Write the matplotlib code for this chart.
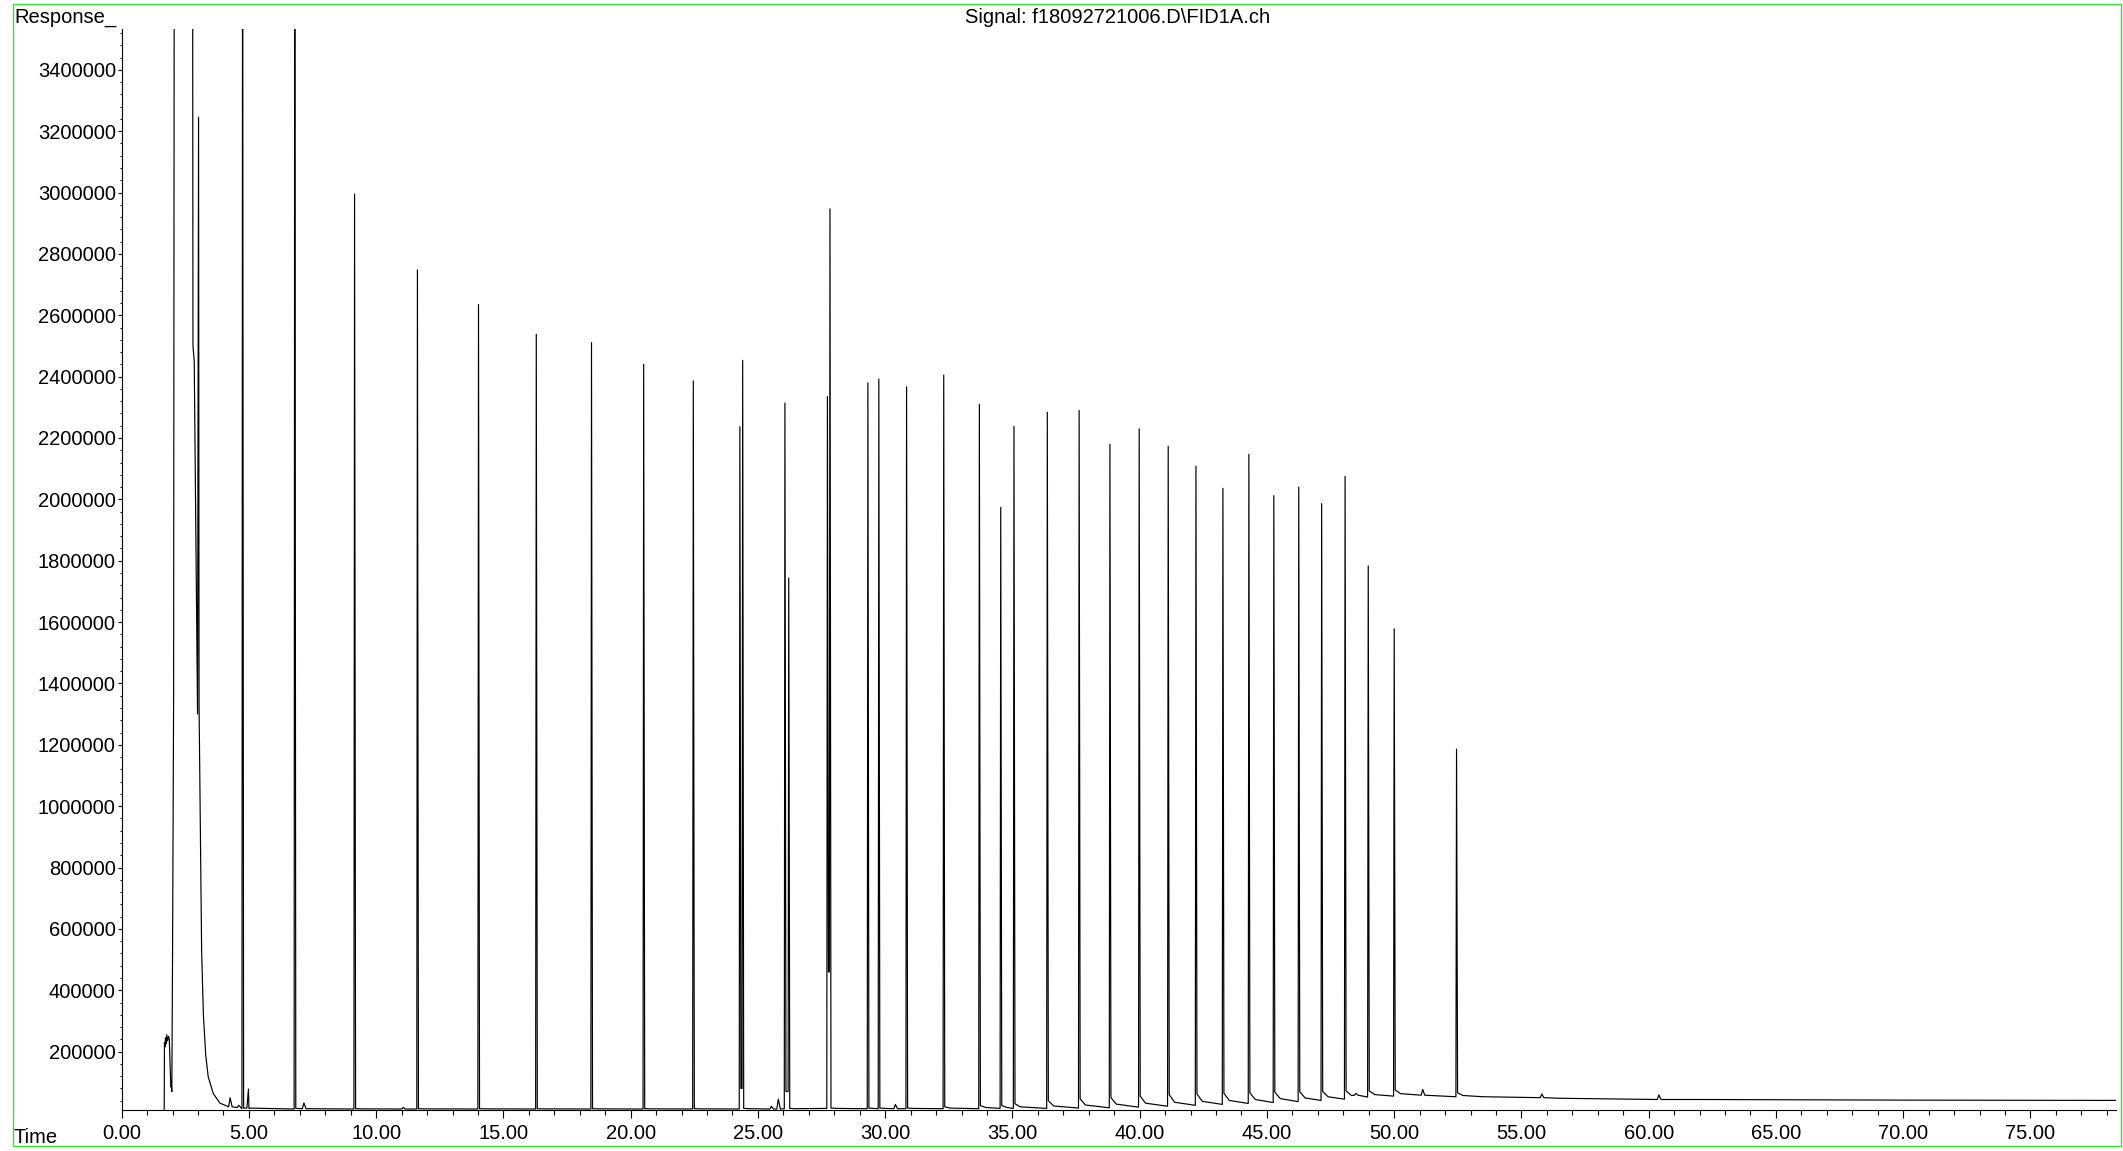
import numpy as np
import matplotlib
matplotlib.use('Agg')
import matplotlib.pyplot as plt
from matplotlib.patches import Rectangle
from matplotlib.ticker import MultipleLocator, FormatStrFormatter

plt.rcParams['font.family'] = ['Liberation Sans', 'DejaVu Sans']

# solvent front, read point by point (min, response)
early_t = [1.67, 1.68, 1.70, 1.72, 1.74, 1.77, 1.80, 1.84, 1.87, 1.89, 1.91, 1.93, 1.95, 1.97,
           2.00, 2.04, 2.07, 2.78, 2.80, 2.85, 2.98, 3.02, 3.04, 3.08, 3.14, 3.21, 3.30, 3.40,
           3.60, 3.86, 4.10]
early_v = [12000, 230000, 215000, 245000, 225000, 255000, 235000, 250000, 240000, 185000,
           120000, 85000, 90000, 70000, 550000, 1360000, 4500000, 4500000, 2500000, 2450000,
           1300000, 3245000, 1330000, 1000000, 530000, 320000, 190000, 118000, 63000, 32000, 24000]

# main peaks: retention time, apex, level just before, just after, and ~0.25 min after
peak_t = [4.75, 6.80, 9.15, 11.62, 14.02, 16.29, 18.46, 20.51, 22.46, 24.29, 24.40, 26.06,
          26.21, 27.73, 27.83, 29.32, 29.75, 30.84, 32.30, 33.70, 34.54, 35.06, 36.37, 37.62,
          38.83, 39.98, 41.12, 42.21, 43.27, 44.29, 45.27, 46.25, 47.15, 48.07, 48.98, 50.00, 52.45]
peak_h = [4200000, 4200000, 2995000, 2748000, 2635000, 2538000, 2511000, 2440000, 2386000,
          2237000, 2453000, 2314000, 1744000, 2335000, 2947000, 2380000, 2392000, 2367000,
          2405000, 2310000, 1974000, 2238000, 2284000, 2290000, 2180000, 2230000, 2173000,
          2108000, 2036000, 2147000, 2012000, 2040000, 1986000, 2075000, 1783000, 1578000, 1186000]
peak_before = [14000, 13000, 13000, 13000, 13000, 13000, 13000, 13000, 13000, 13000, 80000, 14000,
               70000, 15000, 460000, 14000, 14000, 14000, 14000, 14000, 15000, 15000, 15000, 16000,
               17000, 19000, 22000, 25000, 28000, 31000, 34000, 37000, 41000, 45000, 52000, 55000, 53000]
peak_after = [16000, 15000, 14000, 14000, 14000, 14000, 14000, 14000, 14000, 80000, 15000, 70000,
              15000, 460000, 16000, 16000, 16000, 16000, 20000, 24000, 24000, 30000, 40000, 46000,
              50000, 55000, 60000, 62000, 64000, 66000, 68000, 69000, 70000, 72000, 72000, 75000, 66000]
peak_tail = [15000, 14000, 13500, 13500, 13500, 13500, 13500, 13500, 13500, None, 14000, None,
             14000, None, 15000, 15000, 15000, 15000, 16000, 18000, 18000, 20000, 23000, 26000,
             29000, 32000, 35000, 38000, 41000, 44000, 47000, 49000, 53000, 57000, 60000, 63000, 57000]

# minor peaks
small_t = [4.26, 4.60, 4.98, 7.16, 11.06, 25.53, 25.80, 30.40, 48.50, 51.12, 55.80, 60.40]
small_h = [50000, 25000, 78000, 33000, 18000, 22000, 45000, 28000, 64000, 77000, 62000, 59000]
small_base = [20000, 18000, 16000, 14000, 13000, 13000, 13000, 14000, 58000, 58000, 50000, 44000]

# late baseline
tail_t = [53.5, 56.5, 62.0, 70.0, 78.35]
tail_v = [53000, 48000, 44000, 42000, 41000]

pts = list(zip(early_t, early_v))
for t, h, b, a, m in zip(peak_t, peak_h, peak_before, peak_after, peak_tail):
    pts += [(t - 0.025, b), (t, h), (t + 0.04, a)]
    if m is not None:
        pts.append((t + 0.25, m))
for t, h, b in zip(small_t, small_h, small_base):
    pts += [(t - 0.06, b), (t, h), (t + 0.08, b)]
pts += list(zip(tail_t, tail_v))
pts.sort()
x = np.array([p[0] for p in pts])
y = np.array([p[1] for p in pts])

W, H = 2123, 1151
fig = plt.figure(figsize=(W / 100, H / 100), dpi=100)
ax = fig.add_axes([121.7 / W, 1 - 1110.3 / H, (2115.7 - 121.7) / W, (1110.3 - 29) / H])
ax.plot(x, y, color='black', linewidth=0.85)

ax.set_xlim(0, 78.35)
ax.set_ylim(8800, 3533000)
ax.spines['top'].set_visible(False)
ax.spines['right'].set_visible(False)
ax.spines['left'].set_linewidth(0.8)
ax.spines['bottom'].set_linewidth(0.8)

ax.xaxis.set_major_locator(MultipleLocator(5))
ax.xaxis.set_minor_locator(MultipleLocator(1))
ax.xaxis.set_major_formatter(FormatStrFormatter('%.2f'))
ax.yaxis.set_major_locator(MultipleLocator(200000))
ax.yaxis.set_minor_locator(MultipleLocator(40000))
ax.yaxis.set_major_formatter(FormatStrFormatter('%d'))
ax.tick_params(axis='x', which='major', length=6, width=0.8, labelsize=14.5, pad=4)
ax.tick_params(axis='x', which='minor', length=3.5, width=0.8)
ax.tick_params(axis='y', which='major', length=3.2, width=0.8, labelsize=14.5, pad=1)
ax.tick_params(axis='y', which='minor', length=1.6, width=0.8)

fig.text(14 / W, 1 - 23 / H, 'Response_', fontsize=14.5, va='baseline', ha='left')
fig.text(14 / W, 1 - 1142.7 / H, 'Time', fontsize=14.5, va='baseline', ha='left')
fig.text(1118 / W, 1 - 23 / H, 'Signal: f18092721006.D\\FID1A.ch', fontsize=14.5,
         va='baseline', ha='center')

fig.add_artist(Rectangle((13 / W, 1 - 1146 / H), (2121 - 13) / W, (1146 - 4) / H,
                         transform=fig.transFigure, fill=False, edgecolor='#2ee82e', linewidth=1))

fig.savefig('out.png', dpi=100)
